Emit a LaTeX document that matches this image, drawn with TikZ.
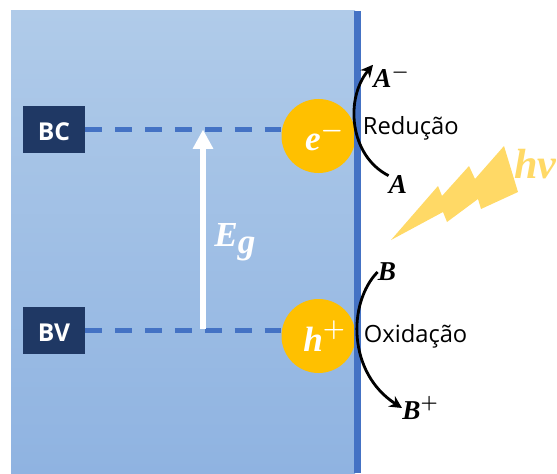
\documentclass[tikz,border=0pt]{standalone}
\usepackage{amsmath}
\usepackage{fontspec}
\setsansfont{Open Sans}
\newfontfamily\varfont{Liberation Serif}
\newcommand{\varsym}[1]{\text{\varfont\bfseries\itshape #1}}
\usetikzlibrary{arrows.meta,positioning}

\begin{document}
\begin{tikzpicture}[
  font=\sffamily,
  panel/.style={inner sep=0pt, minimum width=68.8mm, minimum height=92.4mm, top color=panelTop, bottom color=panelBottom},
  wall/.style={inner sep=0pt, fill=wallBlue, minimum width=1.4mm, minimum height=92.4mm},
  bandbox/.style={fill=bandNavy, text=white, inner sep=0pt, minimum width=12.4mm, minimum height=9.5mm, text height=4.4mm, text depth=0pt, font=\sffamily\bfseries\fontsize{14}{16}\selectfont},
  carrier/.style={circle, fill=carrierGold, text=white, inner sep=0pt, minimum size=14.8mm, font=\fontsize{20}{22}\selectfont\boldmath},
  level/.style={draw=wallBlue, line width=2.3pt, dash pattern=on 9.6pt off 7.4pt},
  gap/.style={-{Triangle[length=11pt, width=11pt]}, draw=white, line width=3pt},
  species/.style={inner sep=0pt, font=\fontsize{15.5}{17}\selectfont\boldmath},
  note/.style={inner sep=0pt, font=\sffamily\fontsize{13.5}{16}\selectfont},
  redox/.style={-{Stealth[length=7pt, width=7pt]}, line width=1.6pt, draw=black}
]
\definecolor{panelTop}{HTML}{B0CBE9}
\definecolor{panelBottom}{HTML}{8FB3E1}
\definecolor{wallBlue}{HTML}{4472C4}
\definecolor{bandNavy}{HTML}{1F3864}
\definecolor{carrierGold}{HTML}{FFC000}
\definecolor{boltYellow}{HTML}{FFD966}

\useasboundingbox (0,0) rectangle (11.14,9.46);

\node[panel] (body) at (3.66,4.62) {};

\node[bandbox] (bc) at (1.08,6.87) {BC};
\node[bandbox] (bv) at (1.08,2.85) {BV};
\coordinate (elcentre) at (6.37,6.74);
\coordinate (hocentre) at (6.37,2.74);
\draw[level] (bc.east) -- (bc.east -| elcentre);
\draw[level] (bv.east) -- (bv.east -| hocentre);
\node[carrier] (el) at (elcentre) {$\hspace{.35em}\varsym{e}^-$};
\node[carrier] (ho) at (hocentre) {$\hspace{.35em}\varsym{h}^+$};
\node[wall] (wall) at (7.15,4.62) {};

\coordinate (gapbase) at (4.06,2.88);
\coordinate (gaptip) at (4.06,6.87);
\draw[gap] (gapbase) -- (gaptip);
\node[species, text=white, font=\fontsize{20}{22}\selectfont\boldmath] (eg) at (4.7,4.62) {$\varsym{E}\raisebox{-4pt}{$\varsym{g}$}$};

\node[species, anchor=west] (am) at (7.46,7.93) {$\varsym{A}^-$};
\node[species] (a) at (7.96,5.76) {$\varsym{A}$};
\node[species] (b) at (7.74,4.02) {$\varsym{B}$};
\node[species, anchor=west] (bp) at (8.04,1.3) {$\varsym{B}^+$};
\draw[redox] (a.north west) .. controls (6.98,6.35) and (6.9,7.5) .. (am.north west);
\draw[redox] (b.west) .. controls (6.95,3.4) and (6.95,2.0) .. (bp.west);

\node[note, anchor=west] (red) at (7.25,6.9) {Redução};
\node[note, anchor=west] (oxi) at (7.27,2.74) {Oxidação};

\fill[boltYellow] (7.82,4.66) -- (8.76,5.74) -- (8.84,5.54) -- (9.38,6.14) -- (9.5,5.88)
  -- (10.08,6.54) -- (10.36,5.62) -- (9.62,5.28) -- (9.56,5.48) -- (8.94,5.02) -- (8.86,5.22) -- cycle;
\node[species, text=boltYellow, font=\fontsize{24}{26}\selectfont\boldmath, anchor=base west] (hv) at (10.28,5.9) {$\varsym{hv}$};

\end{tikzpicture}
\end{document}
